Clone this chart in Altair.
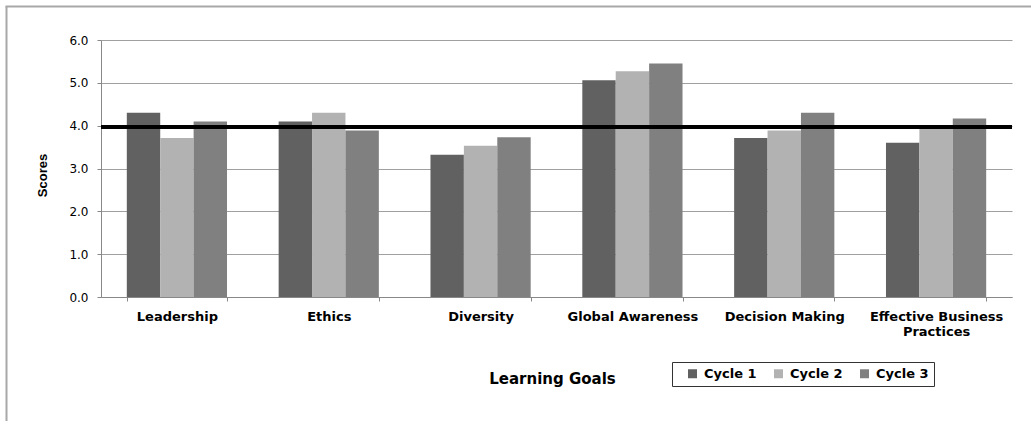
import altair as alt
import pandas as pd

goals = ["Leadership", "Ethics", "Diversity", "Global Awareness",
         "Decision Making", "Effective Business Practices"]
cycles = ["Cycle 1", "Cycle 2", "Cycle 3"]
cycle1 = [4.30, 4.10, 3.32, 5.06, 3.71, 3.60]
cycle2 = [3.71, 4.30, 3.53, 5.27, 3.89, 3.97]
cycle3 = [4.10, 3.89, 3.73, 5.45, 4.30, 4.17]
target = [3.97]
colors = ["#616161", "#b2b2b2", "#808080"]
y_ticks = [0, 1, 2, 3, 4, 5, 6]

rows = []
for i, g in enumerate(goals):
    for c, vals in zip(cycles, [cycle1, cycle2, cycle3]):
        rows.append({"goal": g, "cycle": c, "score": vals[i]})
df = pd.DataFrame(rows)

FONT = "DejaVu Sans"

x_enc = alt.X(
    "goal:N", sort=goals,
    scale=alt.Scale(paddingInner=0.34, paddingOuter=0.17),
    axis=alt.Axis(
        title="Learning Goals", labelAngle=0, labelFont=FONT, labelFontWeight="bold",
        labelFontSize=13, labelColor="black",
        labelExpr="datum.value == 'Effective Business Practices' ? ['Effective Business', 'Practices'] : datum.label",
        labelLineHeight=15, tickBand="extent", tickSize=4, tickColor="#888888",
        domainColor="#888888", labelPadding=9, grid=False,
        titleFont=FONT, titleFontWeight="bold", titleFontSize=15, titleColor="black",
        titleX=451, titleY=81, titleBaseline="middle", titleAlign="center",
    ),
)

y_axis = alt.Axis(
    title="Scores", values=y_ticks, format=".1f", labelFont=FONT, labelFontSize=12,
    labelColor="black", labelPadding=9, tickSize=4, tickColor="#888888",
    domainColor="#888888", gridColor="#a0a0a0", grid=True,
    titleFont="Liberation Sans", titleFontWeight="bold", titleFontSize=13, titleColor="black",
    titleX=-59, titleY=135, titleAngle=270, titleAlign="center", titleBaseline="middle",
)

bars = alt.Chart(df).mark_bar().encode(
    x=x_enc,
    xOffset=alt.XOffset("cycle:N", sort=cycles, scale=alt.Scale(paddingInner=0, paddingOuter=0)),
    y=alt.Y("score:Q", scale=alt.Scale(domain=[0, 6]), axis=y_axis),
    color=alt.Color(
        "cycle:N", scale=alt.Scale(domain=cycles, range=colors),
        legend=alt.Legend(
            title=" ", titleOrient="left", titleFontSize=13, titlePadding=9,
            orient="none", legendX=571, legendY=322, direction="horizontal",
            symbolType="square", symbolSize=81, symbolStrokeWidth=0,
            labelFont=FONT, labelFontWeight="bold", labelFontSize=13, labelColor="black",
            strokeColor="#333333", fillColor="white", padding=5, columnPadding=15, labelOffset=5,
        ),
    ),
)

rule = alt.Chart(pd.DataFrame({"target": target})).mark_rule(
    color="black", strokeWidth=4
).encode(y=alt.Y("target:Q", title="Scores"))

frame_left = alt.Chart(pd.DataFrame({"a": [0]})).mark_rule(
    stroke="#a8a8a8", strokeWidth=2
).encode(x=alt.value(-94.5), y=alt.value(-33.5), y2=alt.value(400))

frame_top = alt.Chart(pd.DataFrame({"a": [0]})).mark_rule(
    stroke="#a8a8a8", strokeWidth=2
).encode(x=alt.value(-95.5), x2=alt.value(1000), y=alt.value(-33.5))

chart = alt.layer(frame_left, frame_top, bars, rule).properties(
    width=911, height=257,
    autosize=alt.AutoSizeParams(type="none"),
    padding={"left": 101, "top": 40, "right": 19, "bottom": 124},
    background="white",
).configure_view(stroke="transparent")

chart.save("out.html", embed_options={"renderer": "svg", "actions": False})
